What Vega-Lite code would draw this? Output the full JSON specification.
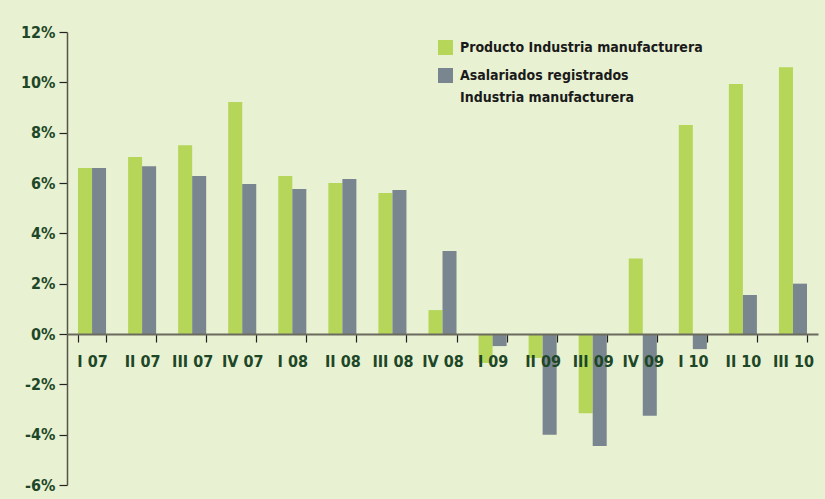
{
  "$schema": "https://vega.github.io/schema/vega-lite/v6.json",
  "width": 751,
  "height": 453,
  "autosize": "none",
  "padding": {"left": 67, "top": 32, "right": 7, "bottom": 14},
  "background": "#E8F1D2",
  "config": {
    "view": {"stroke": null},
    "font": "DejaVu Sans Condensed, Liberation Sans, sans-serif",
    "style": {"guide-label": {"lineHeight": 22}}
  },
  "data": {
    "values": [
      {"trimestre": "I 07", "serie": "Producto Industria manufacturera", "valor": 6.6},
      {"trimestre": "I 07", "serie": "Asalariados registrados Industria manufacturera", "valor": 6.6},
      {"trimestre": "II 07", "serie": "Producto Industria manufacturera", "valor": 7.03},
      {"trimestre": "II 07", "serie": "Asalariados registrados Industria manufacturera", "valor": 6.67},
      {"trimestre": "III 07", "serie": "Producto Industria manufacturera", "valor": 7.5},
      {"trimestre": "III 07", "serie": "Asalariados registrados Industria manufacturera", "valor": 6.28},
      {"trimestre": "IV 07", "serie": "Producto Industria manufacturera", "valor": 9.22},
      {"trimestre": "IV 07", "serie": "Asalariados registrados Industria manufacturera", "valor": 5.96},
      {"trimestre": "I 08", "serie": "Producto Industria manufacturera", "valor": 6.28},
      {"trimestre": "I 08", "serie": "Asalariados registrados Industria manufacturera", "valor": 5.76},
      {"trimestre": "II 08", "serie": "Producto Industria manufacturera", "valor": 6.0},
      {"trimestre": "II 08", "serie": "Asalariados registrados Industria manufacturera", "valor": 6.16},
      {"trimestre": "III 08", "serie": "Producto Industria manufacturera", "valor": 5.6},
      {"trimestre": "III 08", "serie": "Asalariados registrados Industria manufacturera", "valor": 5.72},
      {"trimestre": "IV 08", "serie": "Producto Industria manufacturera", "valor": 0.95},
      {"trimestre": "IV 08", "serie": "Asalariados registrados Industria manufacturera", "valor": 3.3},
      {"trimestre": "I 09", "serie": "Producto Industria manufacturera", "valor": -1.15},
      {"trimestre": "I 09", "serie": "Asalariados registrados Industria manufacturera", "valor": -0.48},
      {"trimestre": "II 09", "serie": "Producto Industria manufacturera", "valor": -0.95},
      {"trimestre": "II 09", "serie": "Asalariados registrados Industria manufacturera", "valor": -4.0},
      {"trimestre": "III 09", "serie": "Producto Industria manufacturera", "valor": -3.15},
      {"trimestre": "III 09", "serie": "Asalariados registrados Industria manufacturera", "valor": -4.45},
      {"trimestre": "IV 09", "serie": "Producto Industria manufacturera", "valor": 3.0},
      {"trimestre": "IV 09", "serie": "Asalariados registrados Industria manufacturera", "valor": -3.25},
      {"trimestre": "I 10", "serie": "Producto Industria manufacturera", "valor": 8.3},
      {"trimestre": "I 10", "serie": "Asalariados registrados Industria manufacturera", "valor": -0.6},
      {"trimestre": "II 10", "serie": "Producto Industria manufacturera", "valor": 9.93},
      {"trimestre": "II 10", "serie": "Asalariados registrados Industria manufacturera", "valor": 1.55},
      {"trimestre": "III 10", "serie": "Producto Industria manufacturera", "valor": 10.6},
      {"trimestre": "III 10", "serie": "Asalariados registrados Industria manufacturera", "valor": 2.0}
    ]
  },
  "mark": {"type": "bar"},
  "encoding": {
    "x": {
      "field": "trimestre",
      "type": "nominal",
      "sort": null,
      "scale": {"paddingInner": 0.44, "paddingOuter": 0.22},
      "axis": {
        "title": null,
        "orient": "bottom",
        "offset": -151,
        "labelAngle": 0,
        "tickBand": "extent",
        "tickSize": 8,
        "tickColor": "#222222",
        "tickWidth": 1.2,
        "domainColor": "#6A6A5E",
        "domainWidth": 2,
        "labelPadding": 11,
        "labelFontSize": 16,
        "labelFontWeight": "bold",
        "labelColor": "#1D4727",
        "zindex": 1
      }
    },
    "xOffset": {
      "field": "serie",
      "type": "nominal",
      "sort": ["Producto Industria manufacturera", "Asalariados registrados Industria manufacturera"]
    },
    "y": {
      "field": "valor",
      "type": "quantitative",
      "scale": {"domain": [-6, 12], "nice": false, "zero": false},
      "axis": {
        "title": null,
        "values": [-6, -4, -2, 0, 2, 4, 6, 8, 10, 12],
        "labelExpr": "datum.value + '%'",
        "grid": false,
        "domainColor": "#555548",
        "domainWidth": 1.5,
        "tickColor": "#222222",
        "tickSize": 8,
        "tickWidth": 1.2,
        "labelPadding": 4,
        "labelFontSize": 16,
        "labelFontWeight": "bold",
        "labelColor": "#1D4727"
      }
    },
    "color": {
      "field": "serie",
      "type": "nominal",
      "sort": ["Producto Industria manufacturera", "Asalariados registrados Industria manufacturera"],
      "scale": {
        "domain": ["Producto Industria manufacturera", "Asalariados registrados Industria manufacturera"],
        "range": ["#B6D65A", "#7A868F"]
      },
      "legend": {
        "title": null,
        "orient": "none",
        "legendX": 371,
        "legendY": 8,
        "symbolType": "square",
        "symbolSize": 225,
        "symbolStrokeWidth": 0,
        "labelFontSize": 14,
        "labelFontWeight": "bold",
        "labelColor": "#1A1A1A",
        "labelLimit": 400,
        "labelOffset": 7,
        "rowPadding": 13,
        "labelExpr": "datum.label == 'Asalariados registrados Industria manufacturera' ? ['Asalariados registrados', 'Industria manufacturera'] : datum.label"
      }
    }
  }
}
